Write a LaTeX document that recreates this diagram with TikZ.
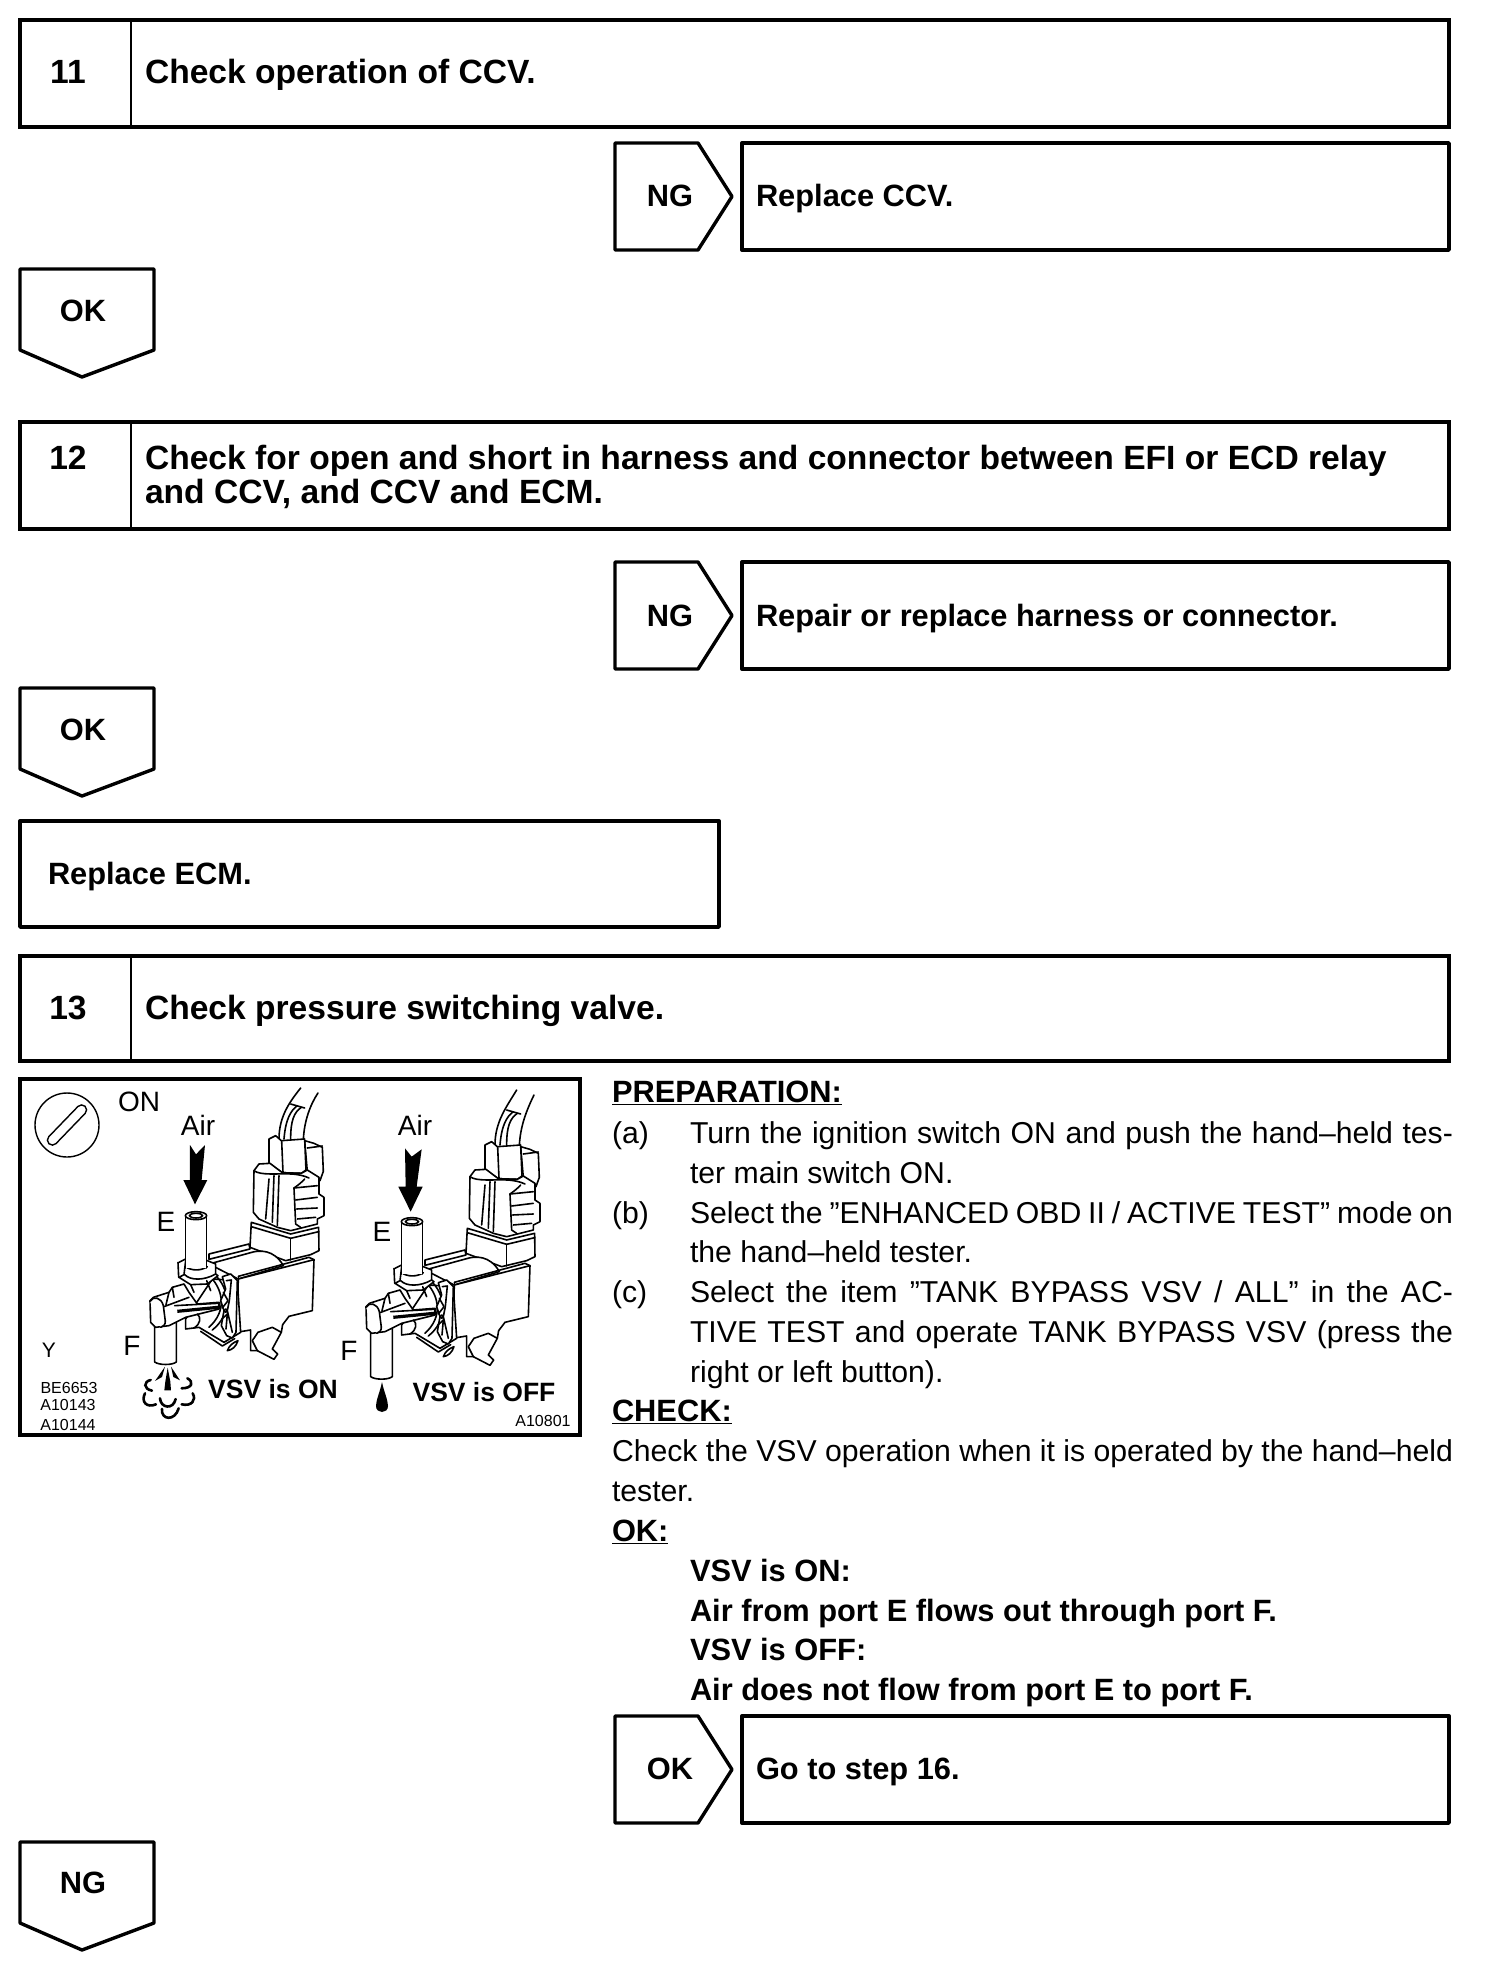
\documentclass[tikz,border=0pt]{standalone}
\usepackage{fontspec}
\setmainfont{Liberation Sans}
\newcommand{\headfont}{\fontsize{33.6}{34}\selectfont\bfseries}
\newcommand{\labfont}{\fontsize{30.8}{34}\selectfont\bfseries}
\newcommand{\bodyfont}{\fontsize{30.2}{34}\selectfont}
\newcommand{\jline}[1]{\hbox to 763pt{#1}}
\newcommand{\jlineb}[1]{\hbox to 841pt{#1}}
\newcommand{\sidearrow}[2]{\draw[thinframe] (615,#1) -- (698,#1) -- (732,{#1+53.5}) -- (698,#2) -- (615,#2) -- cycle;}
\newcommand{\dnarrow}[1]{\draw[thinframe] (20,#1) -- (154,#1) -- (154,{#1+81}) -- (82,{#1+108}) -- (20,{#1+81}) -- cycle;}
\newcommand{\valvepart}[2]{%
  % wires
  \draw[vl] (405,165) .. controls (405,95) and (440,50) .. (470,#2);
  \draw[vl] (478,170) .. controls (480,110) and (500,60) .. (522,{#2+15});
  \draw[vl] (420,165) .. controls (425,105) and (440,80) .. (460,65);
  \draw[vl] (440,165) .. controls (440,110) and (450,85) .. (472,70);
  \draw[vl] (440,60) -- (482,72);
  % right block of connector
  \draw[vf] (482,170) -- (510,178) -- (535,190) -- (538,262) -- (528,290) -- (490,262) -- cycle;
  \draw[vl] (490,192) -- (535,186);
  % plug head
  \draw[vf] (375,238) -- (375,165) -- (395,155) -- (412,170) -- (482,165) -- (486,258) -- (472,268) -- (415,266) -- cycle;
  \draw[vl] (413,170) -- (417,264);
  % mount under the connector
  \draw[vf] (322,415) -- (318,490) -- (425,530) -- (500,512) -- (525,500) -- (524,430) -- (440,450) -- cycle;
  \draw[vl] (322,428) -- (440,463) -- (524,443);
  \draw[vl] (440,463) -- (440,528);
  % connector body
  \draw[vf] (330,260) -- (345,240) -- (378,238) -- (415,266) -- (472,268) -- (490,258) -- (525,280) -- (525,330) -- (540,340) -- (540,395) -- (520,405) -- (520,420) -- (440,440) -- (400,430) -- (345,405) -- (328,385) -- cycle;
  \draw[vl] (330,260) .. controls (350,275) and (400,268) .. (445,270) .. controls (465,272) and (480,275) .. (495,282);
  \draw[vl] (375,285) -- (365,405);
  \draw[vl] (390,275) -- (385,415);
  \draw[vl] (405,275) -- (400,425);
  \draw[vl] (482,285) .. controls (470,298) and (460,305) .. (450,312) -- (455,420) -- (470,430);
  \draw[vl] (450,312) -- (520,305);
  \draw[vl] (455,348) -- (520,340);
  \draw[vl] (458,375) -- (520,372);
  \draw[vl] (460,405) -- (515,400);
  % rear strap and rounded back of the housing
  \draw[vf] (195,510) -- (315,480) -- (318,495) -- (195,526) -- cycle;
  \draw[vf] (195,540) -- (320,506) .. controls (345,498) and (390,495) .. (418,545) -- (283,585) -- cycle;
  % front face of the housing with its foot
  \fill[white] (283,585) -- (510,527) -- (505,680) -- (435,697) -- (416,722) -- (412,745) -- (385,795) -- (401,810) -- (390,826) -- (340,800) -- (320,800) -- (320,745) -- (278,745) -- cycle;
  \draw[vl] (278,745) -- (283,585) -- (510,527) -- (505,680) -- (435,697) -- (416,722) -- (412,745) -- (385,730) -- (342,745) -- (325,770) -- (340,800) -- (390,826) -- (401,810) -- (385,795) -- (412,745);
  \draw[vl] (278,745) -- (320,738) -- (320,800) -- (340,800);
  \draw[vl] (283,577) -- (495,520) -- (510,527);
  \draw[vl] (283,577) -- (283,585);
  % base under the gasket
  \draw[vf] (125,705) -- (125,735) -- (165,730) -- (240,775) -- (290,745) -- (280,590) -- (205,585) -- cycle;
  \draw[vl] (170,742) -- (235,786) -- (272,764);
  \draw[vf] (250,800) .. controls (255,785) and (268,775) .. (282,770) .. controls (276,788) and (265,798) .. (250,800) -- cycle;
  \draw[vl] (205,585) .. controls (235,620) and (250,680) .. (195,730);
  \draw[vl] (220,580) .. controls (260,625) and (260,695) .. (205,738);
  % gasket
  \draw[vf] (235,578) -- (260,570) -- (280,590) -- (276,745) -- (265,762) -- (248,755) -- (232,725) -- (240,680) -- (230,650) -- (245,615) -- cycle;
  \draw[vl] (247,590) -- (262,588) -- (256,650) -- (250,680) -- (265,745);
  \draw[vl] (238,625) -- (252,650) -- (235,672);
  \draw[vl] (234,705) -- (250,690) -- (246,735);
  \draw[vl] (245,680) circle (5);
  % collar below the upper tube
  \draw[vf] (105,580) -- (140,602) -- (190,600) -- (222,575) -- (215,570) -- (215,540) -- (190,530) -- (125,530) -- (120,572) -- cycle;
  \draw[vl] (105,535) -- (125,525);
  \draw[vl] (102,535) -- (104,580);
  \draw[vl] (125,548) .. controls (140,560) and (170,562) .. (190,548);
  \draw[vl] (122,572) .. controls (140,590) and (180,590) .. (215,570);
  \draw[vl] (188,590) -- (200,620);
  \draw[vl] (140,602) -- (150,625);
  % upper tube E
  \fill[white] (125,395) rectangle (187,552);
  \draw[vl] (125,395) -- (125,552);
  \draw[vl] (187,395) -- (187,552);
  \draw[vf] (156,395) ellipse (32 and 12);
  \draw[vl] (156,395) ellipse (20 and 7);
  % lower tube F
  \draw[vf] (32,715) -- (32,#1) .. controls (45,{#1+10}) and (85,{#1+10}) .. (97,#1) -- (97,715) -- cycle;
  % elbow
  \draw[vf] (18,650) -- (20,715) -- (35,730) -- (75,725) -- (125,700) -- (225,675) -- (225,655) -- (160,660) -- (135,625) -- (120,600) -- (85,610) -- (75,625) -- (28,640) -- cycle;
  \draw[vf] (18,652) .. controls (28,635) and (52,640) .. (58,665) -- (64,712) .. controls (64,722) and (58,728) .. (50,730);
  \draw[vl] (75,625) -- (66,662);
  \draw[vl] (85,610) -- (90,640);
  \draw[vl] (60,668) -- (135,640);
  \draw[vl] (92,665) -- (222,658);
  \draw[line width=3.2pt] (100,682) -- (222,670);
  \draw[vl] (160,690) .. controls (172,700) and (170,720) .. (150,732);
}
\tikzset{
  frame/.style={draw=black,line width=4pt,line join=miter},
  thinframe/.style={draw=black,line width=3.4pt,line join=round},
  divider/.style={draw=black,line width=2.5pt},
  txt/.style={inner sep=0pt,outer sep=0pt,anchor=base west,text=black},
  ctxt/.style={inner sep=0pt,outer sep=0pt,anchor=base,text=black},
  mid/.style={inner sep=0pt,outer sep=0pt,anchor=center,text=black},
  vl/.style={draw=black,line width=1.6pt,line join=round,line cap=round},
  vf/.style={vl,fill=white},
}
\begin{document}
\begin{tikzpicture}[x=1pt,y=-1pt]
\useasboundingbox (0,0) rectangle (1504,1972);
\fill[white] (0,0) rectangle (1504,1972);
% step headers
\draw[frame] (20,20) rectangle (1449,127);
\draw[divider] (131,20) -- (131,127);
\node[ctxt] (n11) at (68,84) {\headfont 11};
\node[txt] (h11) at (145,84) {\headfont Check operation of CCV.};
\draw[frame] (20,422) rectangle (1449,529);
\draw[divider] (131,422) -- (131,529);
\node[ctxt] (n12) at (68,469) {\headfont 12};
\node[txt] (h12a) at (145,469) {\headfont Check for open and short in harness and connector between EFI or ECD relay};
\node[txt] (h12b) at (145,503) {\headfont and CCV, and CCV and ECM.};
\draw[frame] (20,956) rectangle (1449,1061);
\draw[divider] (131,956) -- (131,1061);
\node[ctxt] (n13) at (68,1019) {\headfont 13};
\node[txt] (h13) at (145,1019) {\headfont Check pressure switching valve.};
% result boxes
\sidearrow{143}{250}
\node[ctxt] (ng1) at (670,207) {\labfont NG};
\draw[thinframe] (742,143) rectangle (1449,250);
\node[txt] (r1) at (756,207) {\labfont Replace CCV.};
\sidearrow{562}{669}
\node[ctxt] (ng2) at (670,626) {\labfont NG};
\draw[thinframe] (742,562) rectangle (1449,669);
\node[txt] (r2) at (756,626) {\labfont Repair or replace harness or connector.};
\sidearrow{1716}{1823}
\node[ctxt] (ok3) at (670,1779) {\labfont OK};
\draw[thinframe] (742,1716) rectangle (1449,1823);
\node[txt] (r3) at (756,1779) {\labfont Go to step 16.};
\dnarrow{269}
\node[ctxt] (ok1) at (83,321) {\labfont OK};
\dnarrow{688}
\node[ctxt] (ok2) at (83,740) {\labfont OK};
\dnarrow{1842}
\node[ctxt] (ng3) at (83,1893) {\labfont NG};
\draw[thinframe] (20,821) rectangle (719,927);
\node[txt] (r4) at (48,884) {\labfont Replace ECM.};
% body text
\node[txt] (prep) at (612,1102) {\labfont\underline{PREPARATION:}};
\node[txt] (la) at (612,1143) {\bodyfont (a)};
\node[txt] (a1) at (690,1143) {\bodyfont\jline{Turn the ignition switch ON and push the hand–held tes-}};
\node[txt] (a2) at (690,1183) {\bodyfont ter main switch ON.};
\node[txt] (lb) at (612,1223) {\bodyfont (b)};
\node[txt] (b1) at (690,1223) {\bodyfont\jline{Select the ”ENHANCED OBD II / ACTIVE TEST” mode on}};
\node[txt] (b2) at (690,1262) {\bodyfont the hand–held tester.};
\node[txt] (lc) at (612,1302) {\bodyfont (c)};
\node[txt] (c1) at (690,1302) {\bodyfont\jline{Select the item ”TANK BYPASS VSV / ALL” in the AC-}};
\node[txt] (c2) at (690,1342) {\bodyfont\jline{TIVE TEST and operate TANK BYPASS VSV (press the}};
\node[txt] (c3) at (690,1382) {\bodyfont right or left button).};
\node[txt] (chk) at (612,1421) {\labfont\underline{CHECK:}};
\node[txt] (k1) at (612,1461) {\bodyfont\jlineb{Check the VSV operation when it is operated by the hand–held}};
\node[txt] (k2) at (612,1501) {\bodyfont tester.};
\node[txt] (okh) at (612,1541) {\labfont\underline{OK:}};
\node[txt] (o1) at (690,1581) {\labfont VSV is ON:};
\node[txt] (o2) at (690,1621) {\labfont Air from port E flows out through port F.};
\node[txt] (o3) at (690,1660) {\labfont VSV is OFF:};
\node[txt] (o4) at (690,1700) {\labfont Air does not flow from port E to port F.};
% illustration
\draw[frame] (20,1079) rectangle (580,1435);
\draw[line width=1.4pt] (67,1125) circle (32);
\draw[line width=1.4pt,rounded corners=5pt,rotate around={46:(67,1125)}] (41,1120) rectangle (93,1130);
\begin{scope}[shift={(144pt,-1084pt)},x=0.3333pt,y=-0.3333pt]
  \valvepart{834}{12}
\end{scope}
\begin{scope}[shift={(130pt,-1085pt)},x=0.3333pt,y=-0.3333pt]
  \fill[black] (180,180) -- (198,208) -- (225,180) -- (215,285) -- (232,285) -- (195,358) -- (160,285) -- (180,285) -- cycle;
  \begin{scope}[shift={(0,480)}]
    % spray
    \fill[black] (113,368) -- (121,410) -- (123,436) -- (103,436) -- (106,410) -- cycle;
    \fill[black] (105,365) -- (75,408) -- (96,396) -- cycle;
    \fill[black] (123,365) -- (150,406) -- (130,396) -- cycle;
    \draw[line width=2.6pt,line cap=round] (62,405) .. controls (40,410) and (40,432) .. (66,437);
    \draw[line width=2.6pt,line cap=round] (172,400) .. controls (192,410) and (188,430) .. (155,430);
    \draw[line width=2.6pt,line cap=round] (45,445) .. controls (32,470) and (50,490) .. (78,478);
    \draw[line width=2.6pt,line cap=round] (188,445) .. controls (200,465) and (185,485) .. (155,478);
    \draw[line width=2.6pt,line cap=round] (90,460) .. controls (92,490) and (130,495) .. (137,462);
    \draw[line width=2.6pt,line cap=round] (96,492) .. controls (92,525) and (135,530) .. (146,490);
  \end{scope}
\end{scope}
\begin{scope}[shift={(360pt,-1090pt)},x=0.3333pt,y=-0.3333pt]
  \valvepart{860}{0}
  \fill[black] (135,175) -- (155,200) -- (185,178) -- (170,290) -- (188,290) -- (152,365) -- (115,290) -- (137,290) -- cycle;
\end{scope}
\fill[black] (382,1382) .. controls (384,1392) and (388,1400) .. (388,1406) .. controls (388,1414) and (376,1414) .. (376,1406) .. controls (376,1400) and (380,1392) .. (382,1382) -- cycle;
% illustration labels
\node[mid] (lon) at (139,1102) {\fontsize{28}{30}\selectfont ON};
\node[mid] (air1) at (198,1125) {\fontsize{28}{30}\selectfont Air};
\node[mid] (air2) at (415,1125) {\fontsize{28}{30}\selectfont Air};
\node[mid] (e1) at (166,1222) {\fontsize{28}{30}\selectfont E};
\node[mid] (e2) at (382,1232) {\fontsize{28}{30}\selectfont E};
\node[mid] (f1) at (132,1346) {\fontsize{28}{30}\selectfont F};
\node[mid] (f2) at (349,1351) {\fontsize{28}{30}\selectfont F};
\node[mid] (ly) at (49,1350) {\fontsize{21}{24}\selectfont Y};
\node[mid] (von) at (273,1389) {\fontsize{26.5}{28}\selectfont\bfseries VSV is ON};
\node[mid] (voff) at (484,1392) {\fontsize{26.5}{28}\selectfont\bfseries VSV is OFF};
\node[mid] (c1a) at (69,1388) {\fontsize{16}{18}\selectfont BE6653};
\node[mid] (c1b) at (68,1405) {\fontsize{16}{18}\selectfont A10143};
\node[mid] (c1c) at (68,1425) {\fontsize{16}{18}\selectfont A10144};
\node[mid] (c1d) at (543,1421) {\fontsize{16}{18}\selectfont A10801};
\end{tikzpicture}
\end{document}
